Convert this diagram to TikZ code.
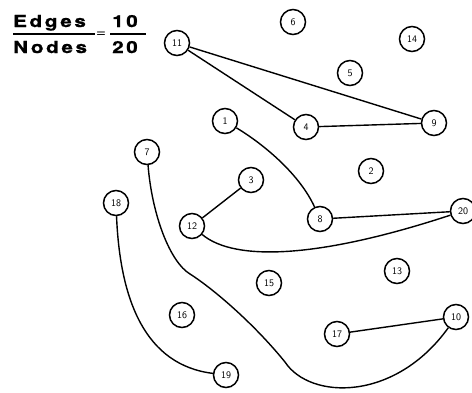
\documentclass[tikz,border=0pt]{standalone}
\usepackage{fontspec}
\newfontfamily\hdfont[FakeStretch=1.25,LetterSpace=16,FakeBold=1.2]{TeX Gyre Heros}
\begin{document}
\begin{tikzpicture}[x=1pt,y=-1pt,
  vertex/.style={circle,draw,line width=1.5pt,minimum size=25pt,inner sep=0pt,
    font=\sffamily\fontsize{10}{10}\selectfont},
  link/.style={line width=1.4pt},
  head/.style={inner sep=0pt,anchor=base west,
    font=\hdfont\bfseries\fontsize{16.5}{16.5}\selectfont},
  bar/.style={line width=2pt}]
\useasboundingbox (0,0) rectangle (472,392);

% ratio heading
\node[head] (edg) at (13,27) {Edges};
\node[head] (nod) at (13,53) {Nodes};
\node[head] (ten) at (112,27) {10};
\node[head] (twe) at (112,53) {20};
\node[inner sep=0pt,font=\sffamily\bfseries\fontsize{11}{11}\selectfont] (eq) at (101,34) {=};
\draw[bar] (13,34) -- (95,34);
\draw[bar] (110,34) -- (146,34);

% vertices
\node[vertex] (n1)  at (225,121) {1};
\node[vertex] (n2)  at (371,171) {2};
\node[vertex] (n3)  at (251,180) {3};
\node[vertex] (n4)  at (306,127) {4};
\node[vertex] (n5)  at (350,73)  {5};
\node[vertex] (n6)  at (293,22)  {6};
\node[vertex] (n7)  at (147,152) {7};
\node[vertex] (n8)  at (320,219) {8};
\node[vertex] (n9)  at (434,123) {9};
\node[vertex] (n10) at (456,317) {10};
\node[vertex] (n11) at (177,43)  {11};
\node[vertex] (n12) at (192,226) {12};
\node[vertex] (n13) at (397,271) {13};
\node[vertex] (n14) at (412,39)  {14};
\node[vertex] (n15) at (269,283) {15};
\node[vertex] (n16) at (182,315) {16};
\node[vertex] (n17) at (337,334) {17};
\node[vertex] (n18) at (116,203) {18};
\node[vertex] (n19) at (226,375) {19};
\node[vertex] (n20) at (463,211) {20};

% edges
\draw[link] (n11) -- (n4);
\draw[link] (n11) -- (n9);
\draw[link] (n4) -- (n9);
\draw[link] (n1) .. controls (265,145) and (300,175) .. (n8);
\draw[link] (n3) -- (n12);
\draw[link] (n8) -- (n20);
\draw[link] (n12) .. controls (235,262) and (320,258) .. (n20);
\draw[link] (n17) -- (n10);
\draw[link] (n18) .. controls (120,300) and (145,365) .. (n19);
\draw[link] (n7) .. controls (152,215) and (170,262) .. (190,274)
  .. controls (215,290) and (255,325) .. (285,362)
  .. controls (310,400) and (395,402) .. (n10);
\end{tikzpicture}
\end{document}
